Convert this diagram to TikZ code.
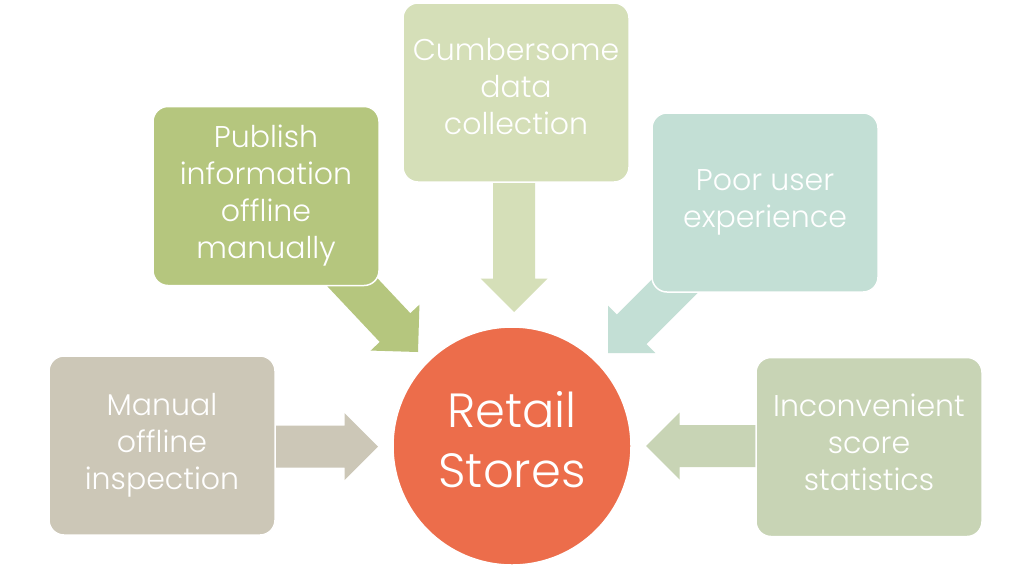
\documentclass[tikz,border=0pt]{standalone}
\usepackage{fontspec}
\setmainfont{Poppins Light}
\usetikzlibrary{calc}
\definecolor{topc}{HTML}{D5DFB8}
\definecolor{pubc}{HTML}{B5C67E}
\definecolor{poorc}{HTML}{C3DFD5}
\definecolor{manc}{HTML}{CCC7B7}
\definecolor{incc}{HTML}{C8D4B5}
\definecolor{circc}{HTML}{EC6D4B}
\newcommand\blockarrow[3]{%
  \fill[#3] ($(#1)!21pt!90:(#2)$)
    -- ($($(#2)!33.5pt!(#1)$)!21pt!90:(#2)$)
    -- ($($(#2)!33.5pt!(#1)$)!33.5pt!90:(#2)$)
    -- (#2)
    -- ($($(#2)!33.5pt!(#1)$)!33.5pt!-90:(#2)$)
    -- ($($(#2)!33.5pt!(#1)$)!21pt!-90:(#2)$)
    -- ($(#1)!21pt!-90:(#2)$) -- cycle;}
\tikzset{
  box/.style={rectangle, rounded corners=15pt, minimum width=226pt, minimum height=179pt,
    draw=white, line width=1.5pt, text=white, align=center,
    font=\fontsize{30}{37}\selectfont, inner sep=0pt},
  hub/.style={circle, minimum size=238pt, fill=circc, draw=white, line width=1.5pt,
    text=white, align=center, font=\fontsize{48}{60}\selectfont, inner sep=0pt}
}
\begin{document}
\begin{tikzpicture}[x=1pt,y=-1pt]
\fill[white] (0,0) rectangle (1024,568);
\useasboundingbox (0,0) rectangle (1024,568);
% arrow end points
\coordinate (tTop) at (514,175);   \coordinate (pTop) at (514,312);
\coordinate (tPub) at (322,250);   \coordinate (pPub) at (418,352);
\coordinate (tPoor) at (707,254);  \coordinate (pPoor) at (608,353);
\coordinate (tMan) at (265,446.5); \coordinate (pMan) at (378,446.5);
\coordinate (tInc) at (765,446);   \coordinate (pInc) at (646,446);
\blockarrow{tTop}{pTop}{topc}
\blockarrow{tPub}{pPub}{pubc}
\blockarrow{tPoor}{pPoor}{poorc}
\blockarrow{tMan}{pMan}{manc}
\blockarrow{tInc}{pInc}{incc}
% boxes
\node[box, fill=topc, text depth=12pt] (top) at (516,92.5) {Cumbersome\\data\\collection};
\node[box, fill=pubc] (pub) at (266,196) {Publish\\information\\offline\\manually};
\node[box, fill=poorc] (poor) at (765,202.5) {Poor user\\experience};
\node[box, fill=manc] (man) at (162,445.5) {Manual\\offline\\inspection};
\node[box, fill=incc, text depth=10pt] (inc) at (869,447) {Inconvenient\\score\\statistics};
\node[hub, text depth=14pt] (hub) at (512,446) {Retail\\Stores};
\end{tikzpicture}
\end{document}
